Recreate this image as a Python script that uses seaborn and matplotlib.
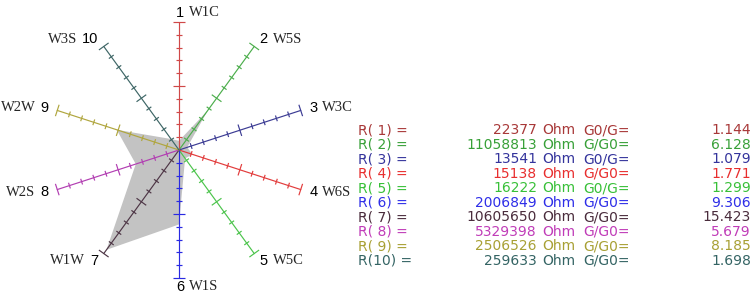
import numpy as np
import pandas as pd
import seaborn as sns
import matplotlib
matplotlib.use('Agg')
import matplotlib.pyplot as plt
from matplotlib.collections import LineCollection

# Radar axes data
axis_num = ['1', '2', '3', '4', '5', '6', '7', '8', '9', '10']
axis_name = ['W1C', 'W5S', 'W3C', 'W6S', 'W5C', 'W1S', 'W1W', 'W2S', 'W2W', 'W3S']
resist = [22377, 11058813, 13541, 15138, 16222, 2006849, 10605650, 5329398, 2506526, 259633]
ratio_kind = ['G0/G=', 'G/G0=', 'G0/G=', 'G/G0=', 'G0/G=', 'G/G0=', 'G/G0=', 'G/G0=', 'G/G0=', 'G/G0=']
ratio = [1.144, 6.128, 1.079, 1.771, 1.299, 9.306, 15.423, 5.679, 8.185, 1.698]
scale_max = 16
n_ticks = 10

spoke_colors = ['#d04848', '#4cae4c', '#3c3c94', '#e23c3c', '#4cc44c',
                '#2a2ae2', '#4e3646', '#b23eb2', '#b0a63e', '#3e6666']
text_colors = ['#a83838', '#38a038', '#34349c', '#e82e2e', '#38c038',
               '#2e2ee8', '#4a2c3c', '#c03cb8', '#a8a034', '#346464']

sns.set_style('white')
pal = sns.color_palette(spoke_colors)

W, H = 755, 308
fig = plt.figure(figsize=(W / 100, H / 100), dpi=100)

# radar axes: centre at (179,150) px, radius 128 px
cx, cy, rad = 179, 150, 128
half = 150
lim = scale_max * half / rad
ax = fig.add_axes([(cx - half) / W, (H - cy - half) / H, 2 * half / W, 2 * half / H])
ax.set_xlim(-lim, lim)
ax.set_ylim(-lim, lim)
ax.axis('off')

theta = np.deg2rad(np.arange(len(axis_num)) * 36)
ux, uy = np.sin(theta), np.cos(theta)

# filled polygon
df = pd.DataFrame({'x': np.array(ratio) * ux, 'y': np.array(ratio) * uy})
ax.fill(df['x'], df['y'], color='#c3c3c3', lw=0, zorder=1)

# spokes with ticks
px = scale_max / rad
for i in range(len(axis_num)):
    ax.plot([0, scale_max * ux[i]], [0, scale_max * uy[i]], color=pal[i], lw=0.85, zorder=2)
    segs = []
    for k in range(1, n_ticks + 1):
        r = k * scale_max / n_ticks
        h = (6 if k % 5 == 0 else 3) * px
        bx, by = r * ux[i], r * uy[i]
        segs.append([(bx - h * uy[i], by + h * ux[i]), (bx + h * uy[i], by - h * ux[i])])
    ax.add_collection(LineCollection(segs, colors=[pal[i]], linewidths=0.85, zorder=2))

# axis labels: number in sans, name in serif
fig.canvas.draw()
renderer = fig.canvas.get_renderer()
lr = 137 * px
for i in range(len(axis_num)):
    lx, ly = lr * ux[i], lr * uy[i]
    if i in (0, 5):
        lx -= 3 * px
        ha = 'left'
    elif i < 5:
        ha = 'left'
    else:
        ha = 'right'
    sign = 1 if ha == 'left' else -1
    t = ax.text(lx, ly, axis_num[i], ha=ha, va='center', fontsize=10.5,
                family='Liberation Sans', color='black')
    w = t.get_window_extent(renderer).width
    ax.annotate(axis_name[i], xy=(lx, ly), xytext=(sign * (w + 5), 0), textcoords='offset pixels',
                ha=ha, va='center', fontsize=10.5, family='Liberation Serif')

# table of values
tab = fig.add_axes([0, 0, 1, 1])
tab.set_xlim(0, W)
tab.set_ylim(H, 0)
tab.axis('off')
tab.patch.set_alpha(0)
for i in range(len(axis_num)):
    y = 130 + i * 14.55
    c = text_colors[i]
    kw = dict(va='center', fontsize=10, family='DejaVu Sans', color=c)
    tab.text(358, y, 'R(%2s) =' % axis_num[i], ha='left', **kw)
    tab.text(537, y, str(resist[i]), ha='right', **kw)
    tab.text(542, y, 'Ohm', ha='left', **kw)
    tab.text(583, y, ratio_kind[i], ha='left', **kw)
    tab.text(751, y, '%.3f' % ratio[i], ha='right', **kw)

fig.savefig('out.png', dpi=100)
